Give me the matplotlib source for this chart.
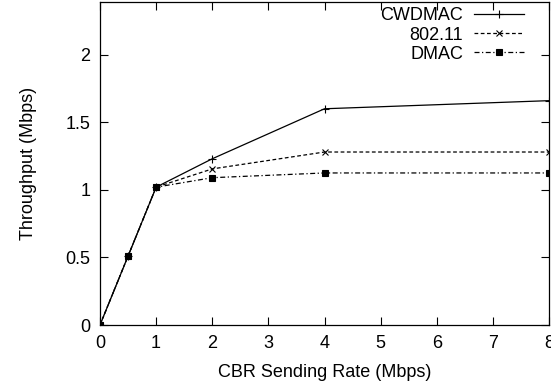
import matplotlib
matplotlib.use("Agg")
import matplotlib.pyplot as plt

rates = [0, 0.5, 1, 2, 4, 8]
cwdmac = [0, 0.51, 1.02, 1.23, 1.60, 1.66]
ieee80211 = [0, 0.51, 1.02, 1.155, 1.28, 1.28]
dmac = [0, 0.51, 1.02, 1.09, 1.125, 1.125]
xticks = [0, 1, 2, 3, 4, 5, 6, 7, 8]
yticks = [0, 0.5, 1, 1.5, 2]
ytick_labels = ["0", "0.5", "1", "1.5", "2"]

plt.rcParams['font.family'] = ['Liberation Sans', 'DejaVu Sans']
fig = plt.figure(figsize=(5.51, 3.88), dpi=100)
ax = fig.add_axes([100/551, 63/388, 449/551, 323/388])

ax.plot(rates, cwdmac, color='black', lw=0.9, ls='-', marker='+', ms=6, mew=0.8, label='CWDMAC')
ax.plot(rates, ieee80211, color='black', lw=0.9, ls=(0, (3, 2)), marker='x', ms=4.5, mew=0.8, label='802.11')
ax.plot(rates, dmac, color='black', lw=0.9, ls=(0, (4, 2, 1, 2)), marker='s', ms=4.5, mew=0.8, label='DMAC')

ax.set_xlim(0, 8)
ax.set_ylim(0, 2.39)
ax.set_xticks(xticks)
ax.set_yticks(yticks)
ax.set_yticklabels(ytick_labels)
ax.tick_params(direction='in', top=True, right=True, length=6, width=0.8, labelsize=13, pad=7)
for s in ax.spines.values():
    s.set_linewidth(0.9)
ax.set_xlabel('CBR Sending Rate (Mbps)', fontsize=13, labelpad=9)
ax.set_ylabel('Throughput (Mbps)', fontsize=13, labelpad=20)

leg = ax.legend(loc='upper right', frameon=False, markerfirst=False, fontsize=13,
                handlelength=2.75, handletextpad=0.6, labelspacing=0.12,
                borderaxespad=0.2, borderpad=0.1)
leg.set_bbox_to_anchor((1 - 20/449, 1), transform=ax.transAxes)
for t in leg.get_texts():
    t.set_ha('right')

fig.savefig('out.png', dpi=100)
